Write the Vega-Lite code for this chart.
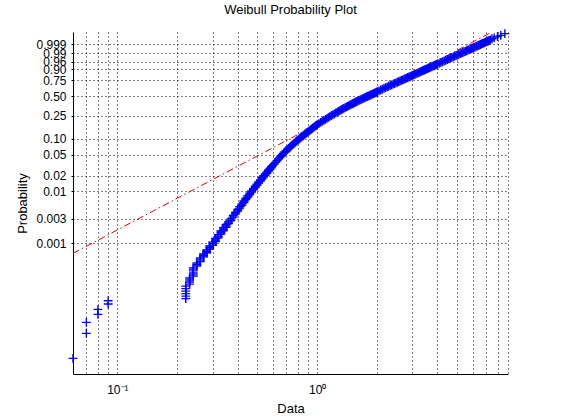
{
  "$schema": "https://vega.github.io/schema/vega-lite/v6.json",
  "width": 435,
  "height": 342,
  "autosize": {"type": "none"},
  "padding": {"left": 73, "top": 32, "right": 53, "bottom": 46},
  "background": "white",
  "title": {
    "text": "Weibull Probability Plot",
    "anchor": "middle",
    "font": "Liberation Sans",
    "fontSize": 13,
    "fontWeight": "normal",
    "color": "#000000",
    "offset": 9
  },
  "config": {
    "view": {"stroke": null},
    "font": "Liberation Sans",
    "axis": {
      "domainColor": "#000000",
      "tickColor": "#000000",
      "labelColor": "#000000",
      "titleColor": "#000000",
      "labelFont": "Liberation Sans",
      "titleFont": "Liberation Sans",
      "labelFontSize": 12,
      "titleFontSize": 13,
      "titleFontWeight": "normal",
      "grid": true,
      "gridColor": "#000000",
      "gridOpacity": 1,
      "gridWidth": 1,
      "gridDash": [1, 3],
      "labelOverlap": false,
      "labelFlush": false,
      "labelBound": false
    }
  },
  "datasets": {
    "fit": [
      {"x": 0.06, "y": -7.352},
      {"x": 9.02, "y": 2.858}
    ],
    "obs": [
      {"x": 0.06, "y": -12.016},
      {"x": 0.07, "y": -10.906}, {"x": 0.07, "y": -10.417},
      {"x": 0.08, "y": -10.062}, {"x": 0.08, "y": -9.84},
      {"x": 0.09, "y": -9.604}, {"x": 0.09, "y": -9.458},
      {"x": 0.22, "y": -9.36}, {"x": 0.22, "y": -9.249}, {"x": 0.22, "y": -9.138}, {"x": 0.22, "y": -9.027}, {"x": 0.22, "y": -8.916}, {"x": 0.22, "y": -8.805},
      {"x": 0.23, "y": -8.716}, {"x": 0.23, "y": -8.627}, {"x": 0.23, "y": -8.538}, {"x": 0.23, "y": -8.449},
      {"x": 0.24, "y": -8.36}, {"x": 0.24, "y": -8.271}, {"x": 0.24, "y": -8.183}, {"x": 0.24, "y": -8.094}, {"x": 0.24, "y": -8.005},
      {"x": 0.25, "y": -7.916}, {"x": 0.25, "y": -7.85}, {"x": 0.25, "y": -7.783},
      {"x": 0.26, "y": -7.716}, {"x": 0.26, "y": -7.641}, {"x": 0.26, "y": -7.561},
      {"x": 0.27, "y": -7.507}, {"x": 0.27, "y": -7.445}, {"x": 0.27, "y": -7.383},
      {"x": 0.28, "y": -7.325}, {"x": 0.28, "y": -7.263}, {"x": 0.28, "y": -7.201},
      {"x": 0.29, "y": -7.161}, {"x": 0.29, "y": -7.095}, {"x": 0.29, "y": -7.028},
      {"x": 0.3, "y": -6.997}, {"x": 0.3, "y": -6.925}, {"x": 0.3, "y": -6.854},
      {"x": 0.31, "y": -6.828}, {"x": 0.31, "y": -6.757}, {"x": 0.31, "y": -6.686},
      {"x": 0.32, "y": -6.663}, {"x": 0.32, "y": -6.592}, {"x": 0.32, "y": -6.521},
      {"x": 0.33, "y": -6.494}, {"x": 0.33, "y": -6.428}, {"x": 0.33, "y": -6.361},
      {"x": 0.34, "y": -6.339}, {"x": 0.34, "y": -6.277}, {"x": 0.34, "y": -6.215},
      {"x": 0.35, "y": -6.192}, {"x": 0.35, "y": -6.135}, {"x": 0.35, "y": -6.077},
      {"x": 0.36, "y": -6.028}, {"x": 0.36, "y": -5.957},
      {"x": 0.37, "y": -5.89}, {"x": 0.37, "y": -5.819},
      {"x": 0.38, "y": -5.744}, {"x": 0.38, "y": -5.673},
      {"x": 0.39, "y": -5.606}, {"x": 0.39, "y": -5.535},
      {"x": 0.4, "y": -5.473}, {"x": 0.4, "y": -5.402},
      {"x": 0.41, "y": -5.344}, {"x": 0.41, "y": -5.277},
      {"x": 0.42, "y": -5.22}, {"x": 0.42, "y": -5.157},
      {"x": 0.43, "y": -5.091}, {"x": 0.43, "y": -5.028},
      {"x": 0.44, "y": -4.966}, {"x": 0.44, "y": -4.904},
      {"x": 0.45, "y": -4.851}, {"x": 0.45, "y": -4.788},
      {"x": 0.46, "y": -4.74}, {"x": 0.46, "y": -4.677},
      {"x": 0.47, "y": -4.629}, {"x": 0.47, "y": -4.575},
      {"x": 0.48, "y": -4.526}, {"x": 0.48, "y": -4.473},
      {"x": 0.49, "y": -4.424}, {"x": 0.49, "y": -4.371},
      {"x": 0.5, "y": -4.324}, {"x": 0.5, "y": -4.276},
      {"x": 0.51, "y": -4.231}, {"x": 0.51, "y": -4.182},
      {"x": 0.52, "y": -4.138}, {"x": 0.52, "y": -4.089},
      {"x": 0.53, "y": -4.044}, {"x": 0.53, "y": -3.996},
      {"x": 0.54, "y": -3.956}, {"x": 0.54, "y": -3.907},
      {"x": 0.55, "y": -3.871}, {"x": 0.55, "y": -3.822},
      {"x": 0.56, "y": -3.791}, {"x": 0.56, "y": -3.742},
      {"x": 0.57, "y": -3.711}, {"x": 0.57, "y": -3.662},
      {"x": 0.58, "y": -3.631}, {"x": 0.58, "y": -3.582},
      {"x": 0.59, "y": -3.556}, {"x": 0.59, "y": -3.507},
      {"x": 0.6, "y": -3.456}, {"x": 0.61, "y": -3.38}, {"x": 0.62, "y": -3.309}, {"x": 0.63, "y": -3.234},
      {"x": 0.64, "y": -3.163}, {"x": 0.65, "y": -3.096}, {"x": 0.66, "y": -3.025}, {"x": 0.67, "y": -2.963},
      {"x": 0.68, "y": -2.905}, {"x": 0.69, "y": -2.847}, {"x": 0.7, "y": -2.794}, {"x": 0.71, "y": -2.741},
      {"x": 0.72, "y": -2.687}, {"x": 0.73, "y": -2.638}, {"x": 0.74, "y": -2.59}, {"x": 0.75, "y": -2.541},
      {"x": 0.76, "y": -2.496}, {"x": 0.77, "y": -2.452}, {"x": 0.78, "y": -2.407}, {"x": 0.79, "y": -2.363},
      {"x": 0.8, "y": -2.323}, {"x": 0.81, "y": -2.283}, {"x": 0.82, "y": -2.241}, {"x": 0.83, "y": -2.203},
      {"x": 0.84, "y": -2.163}, {"x": 0.85, "y": -2.128}, {"x": 0.86, "y": -2.088}, {"x": 0.87, "y": -2.052},
      {"x": 0.88, "y": -2.016}, {"x": 0.89, "y": -1.981}, {"x": 0.9, "y": -1.954}, {"x": 0.91, "y": -1.919},
      {"x": 0.92, "y": -1.888}, {"x": 0.93, "y": -1.852}, {"x": 0.94, "y": -1.821}, {"x": 0.95, "y": -1.79},
      {"x": 0.96, "y": -1.759}, {"x": 0.97, "y": -1.723}, {"x": 0.98, "y": -1.692}, {"x": 0.99, "y": -1.666},
      {"x": 1.0, "y": -1.639}, {"x": 1.02, "y": -1.586}, {"x": 1.04, "y": -1.537}, {"x": 1.06, "y": -1.488},
      {"x": 1.08, "y": -1.443}, {"x": 1.1, "y": -1.399}, {"x": 1.12, "y": -1.355}, {"x": 1.14, "y": -1.31},
      {"x": 1.16, "y": -1.27}, {"x": 1.18, "y": -1.23}, {"x": 1.2, "y": -1.19}, {"x": 1.22, "y": -1.155},
      {"x": 1.24, "y": -1.115}, {"x": 1.26, "y": -1.079}, {"x": 1.28, "y": -1.044}, {"x": 1.3, "y": -1.006},
      {"x": 1.32, "y": -0.972}, {"x": 1.34, "y": -0.941}, {"x": 1.36, "y": -0.91}, {"x": 1.38, "y": -0.879},
      {"x": 1.4, "y": -0.848}, {"x": 1.42, "y": -0.821}, {"x": 1.44, "y": -0.79}, {"x": 1.46, "y": -0.764},
      {"x": 1.48, "y": -0.733}, {"x": 1.5, "y": -0.706}, {"x": 1.52, "y": -0.684}, {"x": 1.54, "y": -0.657},
      {"x": 1.56, "y": -0.63}, {"x": 1.58, "y": -0.608}, {"x": 1.6, "y": -0.582}, {"x": 1.62, "y": -0.559},
      {"x": 1.64, "y": -0.537}, {"x": 1.66, "y": -0.51}, {"x": 1.68, "y": -0.488}, {"x": 1.7, "y": -0.466},
      {"x": 1.72, "y": -0.448}, {"x": 1.74, "y": -0.426}, {"x": 1.76, "y": -0.404}, {"x": 1.78, "y": -0.386},
      {"x": 1.8, "y": -0.366}, {"x": 1.82, "y": -0.346}, {"x": 1.84, "y": -0.328}, {"x": 1.86, "y": -0.306},
      {"x": 1.88, "y": -0.288}, {"x": 1.9, "y": -0.271}, {"x": 1.92, "y": -0.253}, {"x": 1.94, "y": -0.235},
      {"x": 1.96, "y": -0.213}, {"x": 1.98, "y": -0.195}, {"x": 2.0, "y": -0.175}, {"x": 2.04, "y": -0.137},
      {"x": 2.08, "y": -0.095}, {"x": 2.12, "y": -0.062}, {"x": 2.16, "y": -0.026}, {"x": 2.2, "y": 0.009},
      {"x": 2.24, "y": 0.041}, {"x": 2.28, "y": 0.072}, {"x": 2.32, "y": 0.103}, {"x": 2.36, "y": 0.133},
      {"x": 2.4, "y": 0.162}, {"x": 2.44, "y": 0.191}, {"x": 2.48, "y": 0.22}, {"x": 2.52, "y": 0.248},
      {"x": 2.56, "y": 0.276}, {"x": 2.6, "y": 0.303}, {"x": 2.64, "y": 0.329}, {"x": 2.68, "y": 0.356},
      {"x": 2.72, "y": 0.382}, {"x": 2.76, "y": 0.407}, {"x": 2.8, "y": 0.433}, {"x": 2.84, "y": 0.458},
      {"x": 2.88, "y": 0.482}, {"x": 2.92, "y": 0.506}, {"x": 2.96, "y": 0.53}, {"x": 3.0, "y": 0.554},
      {"x": 3.04, "y": 0.577}, {"x": 3.08, "y": 0.6}, {"x": 3.12, "y": 0.622}, {"x": 3.16, "y": 0.645},
      {"x": 3.2, "y": 0.667}, {"x": 3.24, "y": 0.689}, {"x": 3.28, "y": 0.71}, {"x": 3.32, "y": 0.731},
      {"x": 3.36, "y": 0.752}, {"x": 3.4, "y": 0.773}, {"x": 3.44, "y": 0.794}, {"x": 3.48, "y": 0.814},
      {"x": 3.52, "y": 0.834}, {"x": 3.56, "y": 0.854}, {"x": 3.6, "y": 0.873}, {"x": 3.64, "y": 0.893},
      {"x": 3.68, "y": 0.912}, {"x": 3.72, "y": 0.931}, {"x": 3.76, "y": 0.95}, {"x": 3.8, "y": 0.968},
      {"x": 3.84, "y": 0.987}, {"x": 3.88, "y": 1.005}, {"x": 3.92, "y": 1.023}, {"x": 3.96, "y": 1.041},
      {"x": 4.0, "y": 1.058}, {"x": 4.08, "y": 1.093}, {"x": 4.16, "y": 1.127}, {"x": 4.24, "y": 1.16},
      {"x": 4.32, "y": 1.193}, {"x": 4.4, "y": 1.225}, {"x": 4.48, "y": 1.257}, {"x": 4.56, "y": 1.288},
      {"x": 4.64, "y": 1.318}, {"x": 4.72, "y": 1.348}, {"x": 4.8, "y": 1.378}, {"x": 4.88, "y": 1.407},
      {"x": 4.96, "y": 1.435}, {"x": 5.04, "y": 1.463}, {"x": 5.12, "y": 1.491}, {"x": 5.2, "y": 1.518},
      {"x": 5.28, "y": 1.545}, {"x": 5.36, "y": 1.571}, {"x": 5.44, "y": 1.597}, {"x": 5.52, "y": 1.623},
      {"x": 5.6, "y": 1.648}, {"x": 5.68, "y": 1.673}, {"x": 5.76, "y": 1.698}, {"x": 5.84, "y": 1.722},
      {"x": 5.92, "y": 1.746}, {"x": 6.0, "y": 1.769}, {"x": 6.08, "y": 1.792}, {"x": 6.16, "y": 1.815},
      {"x": 6.24, "y": 1.838}, {"x": 6.32, "y": 1.86}, {"x": 6.4, "y": 1.882}, {"x": 6.48, "y": 1.904},
      {"x": 6.56, "y": 1.926}, {"x": 6.64, "y": 1.947}, {"x": 6.72, "y": 1.968}, {"x": 6.8, "y": 1.989},
      {"x": 6.88, "y": 2.009}, {"x": 6.96, "y": 2.03}, {"x": 7.04, "y": 2.05}, {"x": 7.12, "y": 2.069},
      {"x": 7.2, "y": 2.089}, {"x": 7.28, "y": 2.108},
      {"x": 7.36, "y": 2.13}, {"x": 7.5, "y": 2.18}, {"x": 7.7, "y": 2.22}, {"x": 8.0, "y": 2.28},
      {"x": 8.3, "y": 2.33}, {"x": 8.7, "y": 2.41}
    ]
  },
  "encoding": {
    "x": {
      "field": "x",
      "type": "quantitative",
      "scale": {"type": "log", "domain": [0.06, 9.02], "nice": false},
      "axis": {
        "title": "Data",
        "values": [0.07, 0.08, 0.09, 0.1, 0.2, 0.3, 0.4, 0.5, 0.6, 0.7, 0.8, 0.9, 1, 2, 3, 4, 5, 6, 7, 8, 9],
        "labelExpr": "datum.value == 0.1 ? '10⁻¹' : datum.value == 1 ? '10⁰' : ''",
        "ticks": false,
        "labelPadding": 10,
        "titlePadding": 7
      }
    },
    "y": {
      "field": "y",
      "type": "quantitative",
      "scale": {"domain": [-12.71, 2.48], "nice": false, "zero": false},
      "axis": {
        "title": "Probability",
        "values": [-6.9073, -5.8076, -4.6001, -3.9019, -2.9702, -2.2504, -1.2459, -0.3665, 0.3266, 0.834, 1.169, 1.5272, 1.9326],
        "labelExpr": "datum.value < -6.5 ? '0.001' : datum.value < -5.5 ? '0.003' : datum.value < -4.3 ? '0.01' : datum.value < -3.5 ? '0.02' : datum.value < -2.6 ? '0.05' : datum.value < -2 ? '0.10' : datum.value < -1 ? '0.25' : datum.value < 0 ? '0.50' : datum.value < 0.6 ? '0.75' : datum.value < 1 ? '0.90' : datum.value < 1.3 ? '0.96' : datum.value < 1.7 ? '0.99' : '0.999'",
        "tickSize": 2,
        "labelPadding": 5,
        "titlePadding": 6
      }
    }
  },
  "layer": [
    {
      "data": {"name": "fit"},
      "mark": {"type": "line", "color": "#e00000", "strokeWidth": 1, "strokeDash": [7, 3, 1.5, 3], "clip": true}
    },
    {
      "data": {"name": "obs"},
      "mark": {"type": "point", "shape": "M-1,0L1,0M0,-1L0,1", "size": 78, "filled": false, "strokeWidth": 1.4, "color": "#0000ff", "opacity": 1, "clip": false}
    }
  ]
}
